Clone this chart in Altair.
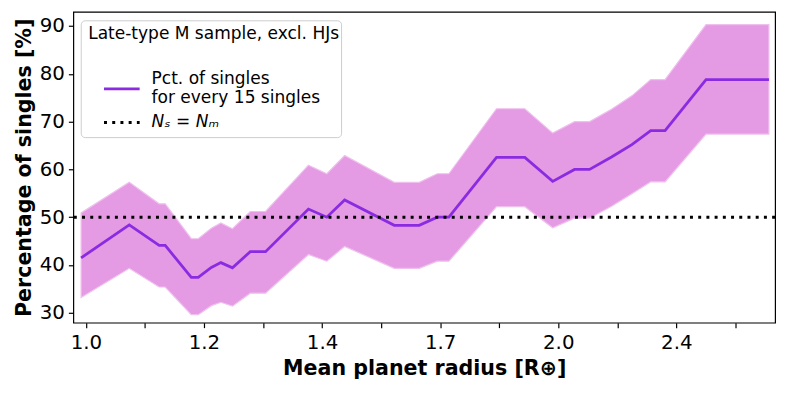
import altair as alt
import pandas as pd

# ---- data ----
radius = [0.993, 1.066, 1.114, 1.124, 1.168, 1.180, 1.203, 1.220, 1.241, 1.274,
          1.303, 1.388, 1.426, 1.464, 1.575, 1.634, 1.678, 1.707, 1.831, 1.909,
          1.989, 2.054, 2.100, 2.169, 2.235, 2.298, 2.347, 2.493, 2.735]
pct = [41.5, 48.4, 44.1, 44.1, 37.4, 37.4, 39.5, 40.5, 39.4, 42.8,
       42.8, 51.7, 50.0, 53.6, 48.3, 48.3, 50.0, 50.0, 62.5, 62.5,
       57.5, 60.0, 60.0, 62.6, 65.2, 68.1, 68.1, 78.8, 78.8]
pct_hi = [50.9, 57.3, 52.8, 52.8, 45.5, 45.5, 47.7, 48.8, 47.6, 51.2,
          51.2, 60.9, 59.1, 62.9, 57.3, 57.3, 59.1, 59.1, 72.7, 72.7,
          67.6, 70.0, 70.0, 72.6, 75.4, 78.8, 78.8, 90.3, 90.3]
pct_lo = [33.2, 39.3, 35.4, 35.4, 29.6, 29.6, 31.5, 32.2, 31.4, 34.1,
          34.1, 42.2, 40.8, 43.9, 39.3, 39.3, 40.8, 40.8, 52.2, 52.2,
          47.8, 49.8, 49.8, 52.3, 54.9, 57.4, 57.4, 67.4, 67.4]

x_major = [1.0, 1.19, 1.4161, 1.685159, 2.005339, 2.386354]
x_major_labels = ["1.0", "1.2", "1.4", "1.7", "2.0", "2.4"]
x_minor = [1.090871, 1.298137, 1.544783, 1.838292, 2.187568, 2.603206]
y_ticks = [30, 40, 50, 60, 70, 80, 90]
ref_level = [50]

legend_title = "Late-type M sample, excl. HJs"
legend_line1 = "Pct. of singles"
legend_line2 = "for every 15 singles"
legend_ref = "Nₛ = Nₘ"

FONT = "DejaVu Sans"
df = pd.DataFrame({"radius": radius, "pct": pct, "lo": pct_lo, "hi": pct_hi})
ref_df = pd.DataFrame({"y": ref_level})
one = pd.DataFrame({"a": [0]})

label_expr = " : ".join(
    f"abs(datum.value - {v}) < 0.001 ? '{l}'" for v, l in zip(x_major, x_major_labels)
) + " : ''"

xscale = alt.Scale(type="log", domain=[0.9817, 2.760], nice=False)
yscale = alt.Scale(domain=[27.93, 92.96], nice=False, zero=False)

xaxis = alt.Axis(values=x_major + x_minor, labelExpr=label_expr,
                 title="Mean planet radius [R⊕]", grid=False, domain=False,
                 tickColor="black", tickSize=5, tickWidth=1.2,
                 labelFontSize=20, labelColor="black", labelFont=FONT,
                 labelPadding=5, labelOverlap=False, labelFlush=False,
                 titleFont=FONT, titleFontSize=20.8, titleFontWeight="bold",
                 titleColor="black", titlePadding=6)
yaxis = alt.Axis(values=y_ticks, title="Percentage of singles [%]", grid=False,
                 domain=False, tickColor="black", tickSize=5, tickWidth=1.2,
                 labelFontSize=20, labelColor="black", labelFont=FONT,
                 labelPadding=4, labelOverlap=False, labelFlush=False,
                 titleFont=FONT, titleFontSize=20.8, titleFontWeight="bold",
                 titleColor="black", titlePadding=5)

band = alt.Chart(df).mark_area(color="#e59ae4", stroke="#efc0ee", strokeWidth=1.2,
                               opacity=1).encode(
    x=alt.X("radius:Q", scale=xscale, axis=xaxis),
    y=alt.Y("lo:Q", scale=yscale, axis=yaxis),
    y2="hi:Q",
)
line = alt.Chart(df).mark_line(color="#8a2be2", strokeWidth=2.8).encode(
    x=alt.X("radius:Q", scale=xscale),
    y=alt.Y("pct:Q", scale=yscale),
)
ref = alt.Chart(ref_df).mark_rule(color="black", strokeWidth=3,
                                  strokeDash=[3, 5.3], strokeCap="butt").encode(
    y=alt.Y("y:Q", scale=yscale)
)

# ---- legend (drawn by hand) ----
box = alt.Chart(one).mark_rect(fill="white", fillOpacity=0.8, stroke="#cccccc",
                               strokeWidth=1, cornerRadius=4).encode(
    x=alt.value(8), x2=alt.value(271), y=alt.value(9), y2=alt.value(127))
t_title = alt.Chart(one).mark_text(align="left", baseline="alphabetic", font=FONT,
                                   fontSize=17.2, color="black",
                                   text=legend_title).encode(
    x=alt.value(15), y=alt.value(27))
sample_line = alt.Chart(one).mark_rule(color="#8a2be2", strokeWidth=2.8).encode(
    x=alt.value(31), x2=alt.value(67), y=alt.value(77.7))
t_l1 = alt.Chart(one).mark_text(align="left", baseline="alphabetic", font=FONT,
                                fontSize=17.2, color="black", text=legend_line1).encode(
    x=alt.value(79), y=alt.value(72.7))
t_l2 = alt.Chart(one).mark_text(align="left", baseline="alphabetic", font=FONT,
                                fontSize=17.2, color="black", text=legend_line2).encode(
    x=alt.value(79), y=alt.value(91.7))
sample_dot = alt.Chart(one).mark_rule(color="black", strokeWidth=3,
                                      strokeDash=[3, 5.3], strokeCap="butt").encode(
    x=alt.value(31), x2=alt.value(67), y=alt.value(111.7))
t_ref = alt.Chart(one).mark_text(align="left", baseline="alphabetic", font=FONT,
                                 fontSize=17.2, fontStyle="italic", color="black",
                                 text=legend_ref).encode(
    x=alt.value(79), y=alt.value(116.7))

chart = alt.layer(band, line, ref, box, t_title, sample_line, t_l1, t_l2,
                  sample_dot, t_ref).properties(
    width=709, height=314,
    padding={"left": 66, "top": 2, "right": 10, "bottom": 61},
    autosize=alt.AutoSizeParams(type="none"),
).configure_view(stroke="black", strokeWidth=1.2)

chart.save("out.html", embed_options={"renderer": "svg", "actions": False})
